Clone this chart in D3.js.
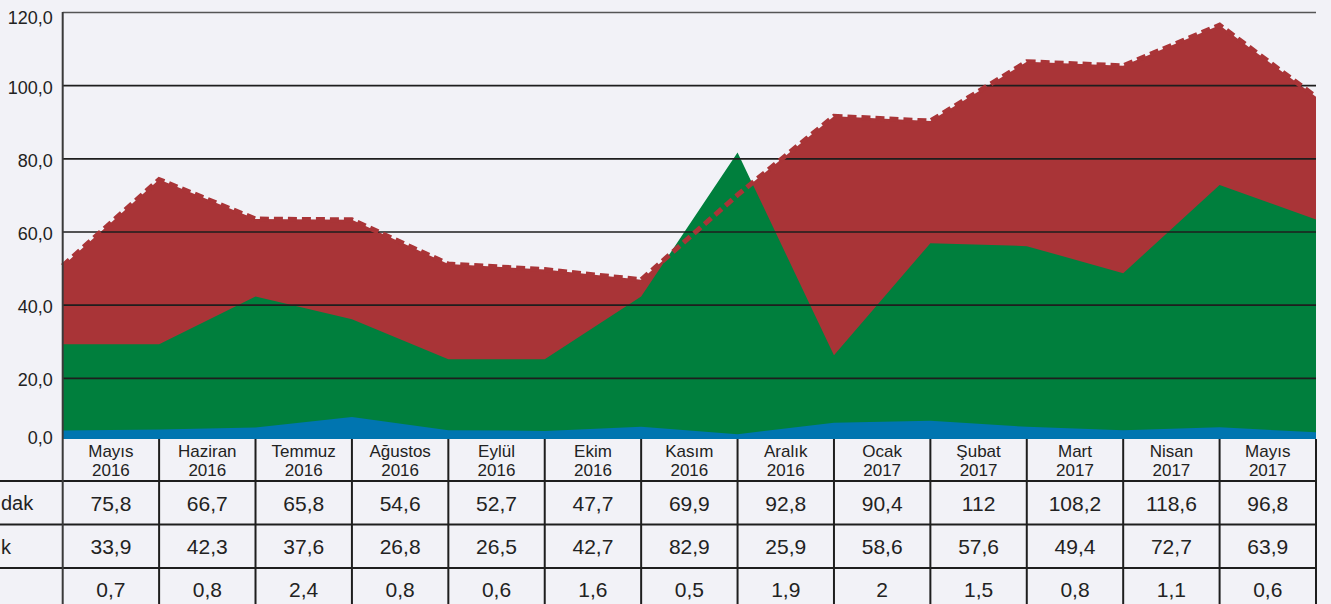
<!DOCTYPE html>
<html><head><meta charset="utf-8">
<script src="https://cdn.jsdelivr.net/npm/d3@7"></script>
<style>
html,body{margin:0;padding:0;background:#f2f2f7;}
svg{display:block}
</style></head><body>
<svg id="c" width="1331" height="604"></svg>
<script>
// ---- data ----
const months = ["Mayıs","Haziran","Temmuz","Ağustos","Eylül","Ekim","Kasım","Aralık","Ocak","Şubat","Mart","Nisan","Mayıs"];
const years  = ["2016","2016","2016","2016","2016","2016","2016","2016","2017","2017","2017","2017","2017"];
const rowLabels = ["dak","k",""];
const row1 = ["75,8","66,7","65,8","54,6","52,7","47,7","69,9","92,8","90,4","112","108,2","118,6","96,8"];
const row2 = ["33,9","42,3","37,6","26,8","26,5","42,7","82,9","25,9","58,6","57,6","49,4","72,7","63,9"];
const row3 = ["0,7","0,8","2,4","0,8","0,6","1,6","0,5","1,9","2","1,5","0,8","1,1","0,6"];
// plotted series (14 points at the column boundaries)
const redSeries   = [50.6, 74.2, 63.4, 63.2, 51.1, 49.6, 46.8, 70.0, 91.5, 90.2, 106.4, 105.3, 116.4, 96.8];
const greenSeries = [29.2, 29.2, 42.2, 36.0, 25.1, 25.1, 42.2, 81.6, 26.2, 56.8, 56.0, 48.6, 72.7, 63.3];
const blueSeries  = [5.6, 5.9, 6.4, 9.3, 5.7, 5.5, 6.6, 4.6, 7.7, 8.3, 6.6, 5.7, 6.5, 5.1];
const yTicks = [0,20,40,60,80,100,120];

// ---- layout ----
const svg = d3.select("#c");
const W = 1331, H = 604;
const left = 62.7, right = 1316;
const plotTop = 12, plotBottom = 439;
const x = d3.scaleLinear().domain([0, 13]).range([left, right]);
const y = d3.scaleLinear().domain([0, 120]).range([451, 12]);
const idx = d3.range(14);

const C = {red:"#a93437", green:"#007f3d", blue:"#0075b0", grid:"#1e1e1e", text:"#222"};

svg.append("defs").append("clipPath").attr("id","plotclip")
  .append("rect").attr("x", left).attr("y", 0).attr("width", right-left).attr("height", plotBottom);

const g = svg.append("g").attr("clip-path","url(#plotclip)");
const area = arr => d3.area().x(i => x(i)).y0(y(0)).y1(i => y(arr[i]));
g.append("path").datum(idx).attr("d", area(redSeries)).attr("fill", C.red);
g.append("path").datum(idx).attr("d", area(greenSeries)).attr("fill", C.green);
g.append("path").datum(idx).attr("d", area(blueSeries)).attr("fill", C.blue);

// gridlines via axis
const yAxis = d3.axisLeft(y).tickValues(yTicks).tickSize(-(right-left)).tickPadding(10)
  .tickFormat(d => d3.format(".1f")(d).replace(".", ","));
const ax = svg.append("g").attr("transform", `translate(${left},0)`).call(yAxis);
ax.select(".domain").remove();
ax.selectAll(".tick line").attr("stroke", C.grid).attr("stroke-width", 1.6)
  .attr("display", d => d === 0 ? "none" : null);
ax.select(".tick:last-of-type line").attr("stroke", "#555");
ax.selectAll(".tick text").attr("fill", C.text)
  .style("font-family", "'Liberation Sans', Arial, sans-serif").style("font-size", "18px")
  .attr("dy", d => d === 120 ? "0.65em" : "0.45em");
ax.selectAll(".tick").filter(d => d === 0).attr("transform", "translate(0,437.5)")
  .select("text").attr("dy", "0.35em");

// dashed top line
svg.append("path").datum(idx)
  .attr("d", d3.line().x(i => x(i)).y(i => y(redSeries[i])))
  .attr("fill", "none").attr("stroke", C.red).attr("stroke-width", 5)
  .attr("stroke-dasharray", "9,5");

// ---- table ----
const tbl = svg.append("g");
const rowLines = [481, 524.5, 568];
rowLines.forEach(ry => tbl.append("line").attr("x1", 0).attr("x2", right).attr("y1", ry).attr("y2", ry)
  .attr("stroke", C.grid).attr("stroke-width", 2));
d3.range(14).forEach(k => tbl.append("line").attr("x1", x(k)).attr("x2", x(k))
  .attr("y1", k === 0 ? plotTop : plotBottom).attr("y2", H)
  .attr("stroke", k === 0 ? "#3a3a3a" : C.grid).attr("stroke-width", 2));

const narrow = "'Liberation Sans Narrow', 'Arial Narrow', 'Liberation Sans', sans-serif";
months.forEach((m, k) => {
  const cx = (x(k) + x(k+1)) / 2;
  tbl.append("text").attr("x", cx).attr("y", 451).attr("dy", "0.35em").attr("text-anchor", "middle")
    .attr("fill", C.text).style("font-family", narrow).style("font-size", "17px").text(m);
  tbl.append("text").attr("x", cx).attr("y", 470.5).attr("dy", "0.35em").attr("text-anchor", "middle")
    .attr("fill", C.text).style("font-family", narrow).style("font-size", "17px").text(years[k]);
});
const rows = [row1, row2, row3];
const rowCy = [503, 546.5, 589];
rows.forEach((r, ri) => {
  r.forEach((v, k) => {
    const cx = (x(k) + x(k+1)) / 2;
    tbl.append("text").attr("x", cx).attr("y", rowCy[ri]).attr("dy", "0.36em").attr("text-anchor", "middle")
      .attr("fill", C.text).style("font-family", narrow).style("font-size", "21px").text(v);
  });
  if (rowLabels[ri]) {
    tbl.append("text").attr("x", 1).attr("y", rowCy[ri]).attr("dy", "0.36em").attr("text-anchor", "start")
      .attr("fill", C.text).style("font-family", narrow).style("font-size", "20px").text(rowLabels[ri]);
  }
});
</script>
</body></html>
